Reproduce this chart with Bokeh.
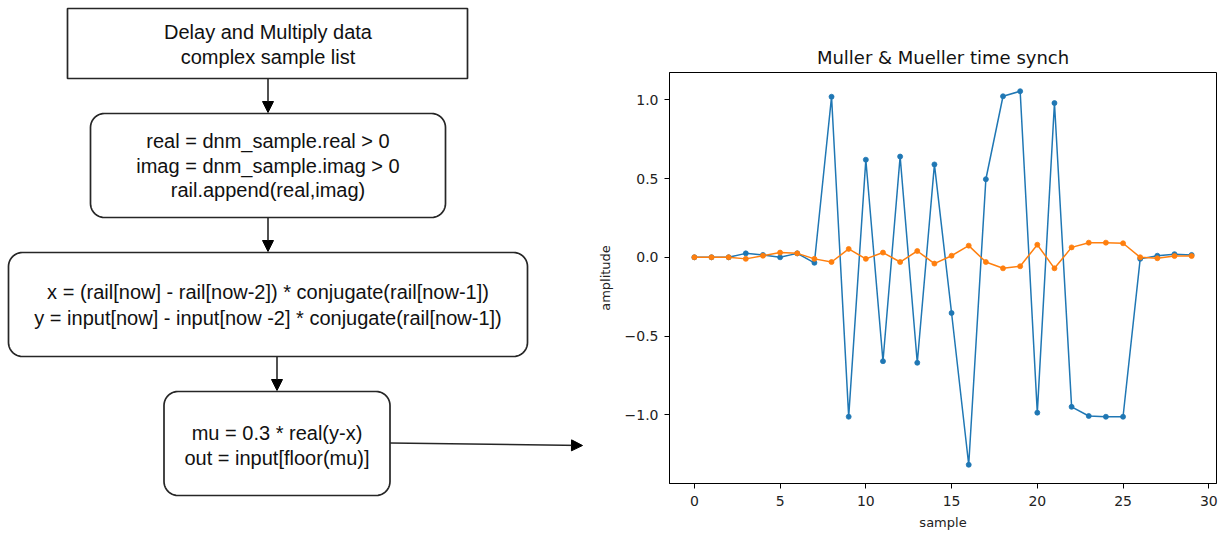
import numpy as np
from bokeh.plotting import figure
from bokeh.layouts import row
from bokeh.models import Range1d, Arrow, NormalHead, FixedTicker
from bokeh.core.properties import value
from bokeh.embed import file_html
from bokeh.resources import INLINE

# ---------------- data ----------------
samples = list(range(30))
rail_signal = [0.0, 0.0, 0.0, 0.025, 0.015, 0.0, 0.025, -0.035, 1.02, -1.013,
               0.62, -0.66, 0.64, -0.67, 0.59, -0.354, -1.318, 0.496, 1.023, 1.055,
               -0.987, 0.98, -0.95, -1.008, -1.013, -1.013, -0.01, 0.01, 0.02, 0.015]
timing_error = [0.0, 0.0, 0.0, -0.01, 0.01, 0.03, 0.025, -0.01, -0.03, 0.053,
                -0.01, 0.03, -0.03, 0.04, -0.04, 0.01, 0.074, -0.03, -0.07, -0.057,
                0.08, -0.07, 0.063, 0.093, 0.093, 0.089, 0.0, -0.006, 0.008, 0.008]
x_ticks = [0, 5, 10, 15, 20, 25, 30]
y_ticks = [-1.0, -0.5, 0.0, 0.5, 1.0]
y_tick_labels = ["\u22121.0", "\u22120.5", "0.0", "0.5", "1.0"]

box_texts = [
    ["Delay and Multiply data", "complex sample list"],
    ["real = dnm_sample.real > 0", "imag = dnm_sample.imag > 0", "rail.append(real,imag)"],
    ["x = (rail[now] - rail[now-2]) * conjugate(rail[now-1])",
     "y = input[now] - input[now -2] * conjugate(rail[now-1])"],
    ["mu = 0.3 * real(y-x)", "out = input[floor(mu)]"],
]

H = 535
TOP, BOTTOM = 72, 52          # chart frame borders (frames of a row are aligned)

# ---------------- flowchart (left) ----------------
FW = 594
fc = figure(width=FW, height=H, output_backend="svg", toolbar_location=None,
            x_range=Range1d(0, FW), y_range=Range1d(H - BOTTOM, TOP),
            min_border_left=0, min_border_right=0,
            min_border_top=TOP, min_border_bottom=BOTTOM)
fc.axis.visible = False
fc.xgrid.visible = False
fc.ygrid.visible = False
fc.outline_line_color = None
fc.background_fill_color = "white"
fc.border_fill_color = "white"


def rounded(x0, y0, x1, y1, r):
    xs, ys = [], []
    corners = [(x1 - r, y0 + r, -90, 0), (x1 - r, y1 - r, 0, 90),
               (x0 + r, y1 - r, 90, 180), (x0 + r, y0 + r, 180, 270)]
    for cx, cy, a0, a1 in corners:
        t = np.radians(np.linspace(a0, a1, 12))
        xs.extend(cx + r * np.cos(t))
        ys.extend(cy + r * np.sin(t))
    return xs, ys


boxes = [
    (67, 8, 467, 78, 0, 267.5, [31, 56]),
    (90, 113, 445, 217, 14, 267.5, [140, 165, 189.5]),
    (8, 252, 527, 356, 14, 267.5, [291.5, 317]),
    (163.5, 391, 389.5, 495, 14, 276.5, [432, 457]),
]
LC = "#262626"
for (x0, y0, x1, y1, r, cx, lys), lines in zip(boxes, box_texts):
    if r == 0:
        xs, ys = [x0, x1, x1, x0], [y0, y0, y1, y1]
    else:
        xs, ys = rounded(x0, y0, x1, y1, r)
    g = fc.patch(xs, ys, fill_color="white", line_color=LC, line_width=1.7)
    g.level = "overlay"
    t = fc.text(x=[cx] * len(lines), y=lys, text=lines, text_align="center",
                text_baseline="middle", text_font=value("Liberation Sans"),
                text_font_size="20px", text_color="#111111")
    t.level = "overlay"

arrows = [
    (267.5, 78, 267.5, 112),
    (267.5, 217, 267.5, 251),
    (276.5, 356, 276.5, 390),
    (389.5, 442.5, 582, 445),
]
for xs_, ys_, xe, ye in arrows:
    fc.add_layout(Arrow(x_start=xs_, y_start=ys_, x_end=xe, y_end=ye,
                        line_color=LC, line_width=1.6,
                        end=NormalHead(size=11, fill_color="black", line_color="black",
                                       line_width=1)))

# ---------------- chart (right) ----------------
CW = 1226 - FW
p = figure(width=CW, height=H, output_backend="svg", toolbar_location=None,
           title="Muller & Mueller time synch",
           x_range=Range1d(-1.45, 30.45), y_range=Range1d(-1.437, 1.174),
           min_border_left=50, min_border_right=10, min_border_top=TOP,
           min_border_bottom=BOTTOM)
p.title.align = "center"
p.title.text_font = "DejaVu Sans"
p.title.text_font_size = "18px"
p.title.text_font_style = "normal"
p.title.text_color = "#111111"
p.title.standoff = 10
p.xgrid.visible = False
p.ygrid.visible = False
p.outline_line_color = "black"
p.outline_line_width = 1
p.outline_line_alpha = 1

p.xaxis.ticker = FixedTicker(ticks=x_ticks)
p.yaxis.ticker = FixedTicker(ticks=y_ticks)
p.yaxis.major_label_overrides = {t: l for t, l in zip(y_ticks, y_tick_labels)}
p.xaxis.axis_label = "sample"
p.yaxis.axis_label = "amplitude"
for ax in (p.xaxis[0], p.yaxis[0]):
    ax.axis_line_color = "black"
    ax.major_tick_line_color = "black"
    ax.major_tick_out = 5
    ax.major_tick_in = 0
    ax.minor_tick_line_color = None
    ax.major_label_text_font = "DejaVu Sans"
    ax.major_label_text_font_size = "14px"
    ax.major_label_text_color = "#222222"
    ax.axis_label_text_font = "DejaVu Sans"
    ax.axis_label_text_font_size = "13px"
    ax.axis_label_text_font_style = "normal"
    ax.axis_label_text_color = "#222222"
p.yaxis.major_label_standoff = 6
p.yaxis.axis_label_standoff = 9
p.xaxis.major_label_standoff = 7
p.xaxis.axis_label_standoff = 6

BLUE, ORANGE = "#1f77b4", "#ff7f0e"
p.line(samples, rail_signal, line_color=BLUE, line_width=1.5)
p.scatter(samples, rail_signal, size=5, fill_color=BLUE, line_color=BLUE, line_width=0.8)
p.line(samples, timing_error, line_color=ORANGE, line_width=1.5)
p.scatter(samples, timing_error, size=5, fill_color=ORANGE, line_color=ORANGE, line_width=0.8)

layout = row(fc, p, spacing=0)
open("out.html", "w").write(file_html(layout, INLINE))
